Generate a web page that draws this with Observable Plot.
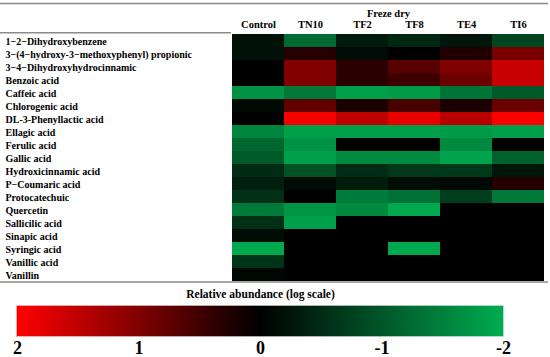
<!DOCTYPE html>
<html><head><meta charset="utf-8">
<script src="https://cdn.jsdelivr.net/npm/d3@7"></script>
<script src="https://cdn.jsdelivr.net/npm/@observablehq/plot@0.6"></script>
<style>
body{margin:0;background:#fff}
#chart svg{display:block}
</style>
</head><body><div id="chart"></div>
<script>
const columns = ["Control", "TN10", "TF2", "TF8", "TE4", "TI6"];
const compounds = [
  "1−2−Dihydroxybenzene",
  "3−(4−hydroxy-3−methoxyphenyl) propionic",
  "3−4−Dihydroxyhydrocinnamic",
  "Benzoic acid",
  "Caffeic acid",
  "Chlorogenic acid",
  "DL-3-Phenyllactic acid",
  "Ellagic acid",
  "Ferulic acid",
  "Gallic acid",
  "Hydroxicinnamic acid",
  "P−Coumaric acid",
  "Protocatechuic",
  "Quercetin",
  "Sallicilic acid",
  "Sinapic acid",
  "Syringic acid",
  "Vanillic acid",
  "Vanillin"
];
// relative abundance (log scale), one array per column, in compound order
const control = [-0.2, -0.2, 0, 0, -1.7, -0.12, 0, -1.55, -1.2, -1.05, -0.5, -0.37, -0.57, -1.42, -0.57, -0.15, -1.95, -0.6, -0.08];
const tn10    = [-1.23, 0.3, 1.0, 1.0, -1.4, 0.75, 1.95, -1.85, -1.7, -1.85, -0.95, -0.15, 0, -1.72, -1.85, 0, 0, 0, 0];
const tf2     = [-0.3, -0.15, 0.33, 0.33, -1.85, 0.2, 1.5, -1.85, 0, -1.6, -0.5, -0.32, -1.45, -1.6, 0, 0, 0, 0, 0];
const tf8     = [-0.45, 0, 0.7, 0.47, -1.8, 0.57, 1.8, -1.85, 0, -1.6, -0.65, -0.15, -1.3, -1.95, 0, 0, -1.95, 0, 0];
const te4     = [-0.25, 0.25, 1.0, 0.83, -1.35, 0.2, 1.45, -1.8, -1.6, -1.9, -0.65, -0.1, -0.72, 0, 0, 0, 0, 0, 0];
const ti6     = [-0.8, 0.95, 1.57, 1.57, -1.05, 0.83, 2.0, -1.85, 0, -1.15, -0.25, 0.3, -1.4, 0, 0, 0, 0, 0, 0];
const series = [control, tn10, tf2, tf8, te4, ti6];

const header = "Freze dry";
const legendTitle = "Relative abundance (log scale)";
const legendTicks = [2, 1, 0, -1, -2];

const cells = compounds.flatMap((c, i) => columns.map((col, j) => ({compound: c, column: col, value: series[j][i]})));

const font = {fontFamily: "'Liberation Serif', 'Times New Roman', serif", fontSize: "10px", fontWeight: "bold", color: "#000", background: "#fff"};

const heat = Plot.plot({
  width: 550, height: 287,
  marginLeft: 231, marginRight: 5, marginTop: 30.7, marginBottom: 3.7,
  style: font,
  x: {domain: columns, padding: 0},
  y: {domain: compounds, padding: 0},
  color: {type: "linear", domain: [-2, 0, 2], range: ["#00ac50", "#000000", "#ff0000"], interpolate: "rgb"},
  marks: [
    Plot.cell(cells, {x: "column", y: "compound", fill: "value", inset: 0, shapeRendering: "crispEdges"}),
    Plot.axisX({anchor: "top", tickSize: 0, tickPadding: 3, label: null, fontSize: 10.5}),
    Plot.axisY({anchor: "left", tickSize: 0, tickPadding: 3, textAnchor: "start", dx: -223, dy: 1, label: null}),
    Plot.text([header], {frameAnchor: "top", lineAnchor: "middle", dy: -18, fontSize: 10.5, text: d => d})
  ]
});

// horizontal table rules
const hs = d3.select(heat);
const yS = heat.scale("y");
const yTop = yS.apply(compounds[0]);
const yBot = yS.apply(compounds[compounds.length - 1]) + yS.bandwidth;
[[0, 548, 3.5], [0, 231, yTop - 1.2], [0, 548, yBot + 1]].forEach(([a, b, y]) => {
  hs.append("line").attr("x1", a).attr("x2", b).attr("y1", y).attr("y2", y)
    .attr("stroke", "#8a8a8a").attr("stroke-width", 1.5);
});

const legend = Plot.plot({
  width: 550, height: 70,
  marginLeft: 17, marginRight: 47, marginTop: 19, marginBottom: 21,
  style: font,
  x: {domain: [legendTicks[0], legendTicks[legendTicks.length - 1]]},
  marks: [
    Plot.rect([legendTicks], {x1: d => d[0], x2: d => d[d.length - 1], fill: "url(#ramp)", stroke: "url(#ramp)", strokeOpacity: 0.45, strokeWidth: 1.5}),
    Plot.axisX(legendTicks, {anchor: "bottom", tickSize: 0, tickPadding: 5, fontSize: 18, tickFormat: d => String(d), label: null}),
    Plot.text([legendTitle], {frameAnchor: "top", lineAnchor: "middle", dy: -12, fontSize: 11.5, text: d => d})
  ]
});

const colorScale = heat.scale("color");
const xL = legend.scale("x");
const x0 = xL.apply(legendTicks[0]), x1 = xL.apply(legendTicks[legendTicks.length - 1]);
const grad = d3.select(legend).insert("defs", ":first-child").append("linearGradient")
  .attr("id", "ramp").attr("x1", 0).attr("x2", 1).attr("y1", 0).attr("y2", 0);
legendTicks.forEach(v => {
  grad.append("stop").attr("offset", (xL.apply(v) - x0) / (x1 - x0)).attr("stop-color", colorScale.apply(v));
});

document.getElementById("chart").append(heat, legend);
</script>
</body></html>
